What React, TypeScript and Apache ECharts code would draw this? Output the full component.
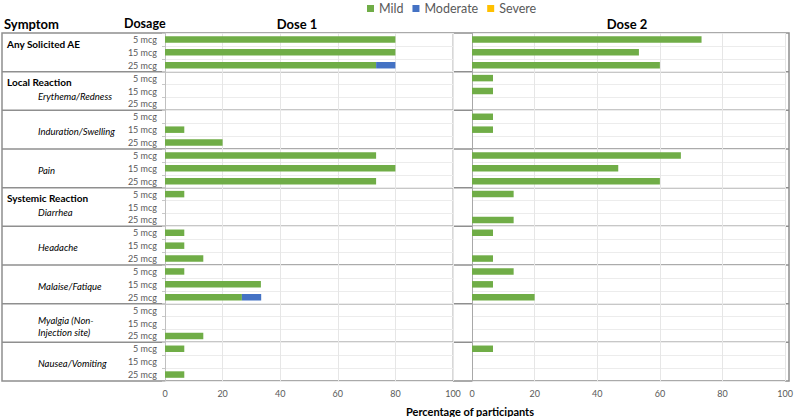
import React, { useEffect, useRef } from "react";
import * as echarts from "echarts";

const symptoms = [
  "",
  "Erythema/Redness",
  "Induration/Swelling",
  "Pain",
  "Diarrhea",
  "Headache",
  "Malaise/Fatique",
  "Myalgia (Non-\nInjection site)",
  "Nausea/Vomiting",
];
const sectionHeaders = ["Any Solicited AE", "Local Reaction", "", "", "Systemic Reaction", "", "", "", ""];
const dosages = ["5 mcg", "15 mcg", "25 mcg"];
const severities = ["Mild", "Moderate", "Severe"];
const severityColors = ["#70AD47", "#4472C4", "#FFC000"];
const xTicks = [0, 20, 40, 60, 80, 100];

// Percentage of participants, 27 rows (9 symptoms x 3 dosages)
const dose1Mild = [80, 80, 73.3, 0, 0, 0, 0, 6.7, 20, 73.3, 80, 73.3, 6.7, 0, 0, 6.7, 6.7, 13.3, 6.7, 33.3, 26.7, 0, 0, 13.3, 6.7, 0, 6.7];
const dose1Moderate = [0, 0, 6.7, 0, 0, 0, 0, 0, 0, 0, 0, 0, 0, 0, 0, 0, 0, 0, 0, 0, 6.7, 0, 0, 0, 0, 0, 0];
const dose1Severe = [0, 0, 0, 0, 0, 0, 0, 0, 0, 0, 0, 0, 0, 0, 0, 0, 0, 0, 0, 0, 0, 0, 0, 0, 0, 0, 0];
const dose2Mild = [73.3, 53.3, 60, 6.7, 6.7, 0, 6.7, 6.7, 0, 66.7, 46.7, 60, 13.3, 0, 13.3, 6.7, 0, 6.7, 13.3, 6.7, 20, 0, 0, 0, 6.7, 0, 0];
const dose2Moderate = [0, 0, 0, 0, 0, 0, 0, 0, 0, 0, 0, 0, 0, 0, 0, 0, 0, 0, 0, 0, 0, 0, 0, 0, 0, 0, 0];
const dose2Severe = [0, 0, 0, 0, 0, 0, 0, 0, 0, 0, 0, 0, 0, 0, 0, 0, 0, 0, 0, 0, 0, 0, 0, 0, 0, 0, 0];

const FONT = "Lato, 'Open Sans', sans-serif";
const GRID_TOP = 33;
const GRID_BOTTOM = 36;
const PLOT_H = 417 - GRID_TOP - GRID_BOTTOM;
const BORDER = "#8f8f8f";

export default function App() {
  const ref = useRef<HTMLDivElement>(null);
  useEffect(() => {
    if (!ref.current) return;
    const chart = echarts.init(ref.current, null, { renderer: "svg" });
    const categories: string[] = [];
    symptoms.forEach((_, g) => dosages.forEach((d) => categories.push(g + "|" + d)));
    const nRows = categories.length;
    const rowH = PLOT_H / nRows;
    const groupH = rowH * dosages.length;

    const z = (arr: number[]) => arr.map((v) => (v === 0 ? "-" : v));
    const d1 = [dose1Mild, dose1Moderate, dose1Severe];
    const d2 = [dose2Mild, dose2Moderate, dose2Severe];

    const yAxisBase = (idx: number, showLabel: boolean, lineColor: string) => ({
      type: "category",
      gridIndex: idx,
      inverse: true,
      data: categories,
      axisLine: { show: true, lineStyle: { color: lineColor, width: 1 } },
      axisTick: { show: showLabel, length: 3, lineStyle: { color: "#c8c8c8" } },
      axisLabel: {
        show: showLabel,
        fontSize: 9,
        color: "#595959",
        fontFamily: FONT,
        margin: 8,
        formatter: (v: string) => v.split("|")[1],
      },
      splitLine: { show: true, lineStyle: { color: "#ececec", width: 1 } },
    });
    const xAxisBase = (idx: number) => ({
      type: "value",
      gridIndex: idx,
      min: xTicks[0],
      max: xTicks[xTicks.length - 1],
      interval: xTicks[1] - xTicks[0],
      axisLine: { show: false },
      axisTick: { show: false },
      axisLabel: { fontSize: 9, color: "#595959", fontFamily: FONT, margin: 8 },
      splitLine: { show: true, lineStyle: { color: "#e6e6e6", width: 1 } },
    });

    const series: any[] = [];
    [d1, d2].forEach((set, gi) => {
      set.forEach((arr, si) => {
        series.push({
          type: "bar",
          name: severities[si],
          xAxisIndex: gi,
          yAxisIndex: gi,
          stack: "s" + gi,
          barWidth: 6.5,
          data: z(arr),
          itemStyle: { color: severityColors[si] },
          emphasis: { disabled: true },
        });
      });
    });

    const graphics: any[] = [];
    const txt = (x: number, y: number, text: string, opts: any = {}) =>
      graphics.push({
        type: "text",
        x,
        y,
        silent: true,
        style: {
          text,
          fill: opts.fill || "#000",
          fontSize: opts.fontSize || 10.5,
          fontWeight: opts.fontWeight || "normal",
          fontStyle: opts.fontStyle || "normal",
          fontFamily: FONT,
          textAlign: opts.align || "left",
          textVerticalAlign: "middle",
          lineHeight: opts.lineHeight || 12,
        },
      });
    // headers
    txt(4, 23.5, "Symptom", { fontSize: 13, fontWeight: "bold" });
    txt(124, 23.5, "Dosage", { fontSize: 12.5, fontWeight: "bold" });
    txt(297, 23.5, "Dose 1", { fontSize: 13, fontWeight: "bold", align: "center" });
    txt(627, 23.5, "Dose 2", { fontSize: 13, fontWeight: "bold", align: "center" });
    txt(470, 411, "Percentage of participants", { fontSize: 11, fontWeight: "bold", align: "center" });

    symptoms.forEach((s, g) => {
      const top = GRID_TOP + g * groupH;
      const hdr = sectionHeaders[g];
      if (hdr) txt(7, top + 10.5, hdr, { fontSize: 10, fontWeight: "bold" });
      if (s) {
        const y = hdr ? top + 24.5 : s.includes("\n") ? top + 22.5 : top + 21;
        txt(38, y, s, { fontSize: 9.5, fontStyle: "italic" });
      }
    });

    // group separators
    for (let g = 1; g < symptoms.length; g++) {
      const y = GRID_TOP + g * groupH;
      graphics.push({
        type: "line",
        silent: true,
        shape: { x1: 2, y1: y, x2: 789, y2: y },
        style: { stroke: BORDER, lineWidth: 1.5 },
      });
    }
    // divider between doses (100% line of dose 1)
    graphics.push({
      type: "line",
      silent: true,
      shape: { x1: 453, y1: GRID_TOP, x2: 453, y2: GRID_TOP + PLOT_H },
      style: { stroke: "#b0b0b0", lineWidth: 1 },
    });
    // outer border
    graphics.push({
      type: "rect",
      silent: true,
      shape: { x: 2, y: GRID_TOP, width: 787, height: PLOT_H },
      style: { stroke: BORDER, fill: "none", lineWidth: 1.5 },
    });

    chart.setOption({
      animation: false,
      backgroundColor: "#fff",
      legend: {
        data: severities,
        left: 367,
        top: 2,
        padding: 0,
        itemWidth: 7,
        itemHeight: 7,
        itemGap: 9,
        icon: "rect",
        textStyle: { fontSize: 12.5, color: "#595959", fontFamily: FONT },
        selectedMode: false,
      },
      grid: [
        { left: 165, right: 796 - 453, top: GRID_TOP, bottom: GRID_BOTTOM },
        { left: 472, right: 8, top: GRID_TOP, bottom: GRID_BOTTOM },
      ],
      xAxis: [xAxisBase(0), xAxisBase(1)],
      yAxis: [yAxisBase(0, true, "#c0c0c0"), yAxisBase(1, false, "#a8a8a8")],
      series,
      graphic: graphics,
    });
    return () => chart.dispose();
  }, []);
  return <div ref={ref} style={{ width: 796, height: 417, position: "absolute", left: 0, top: 0 }} />;
}
